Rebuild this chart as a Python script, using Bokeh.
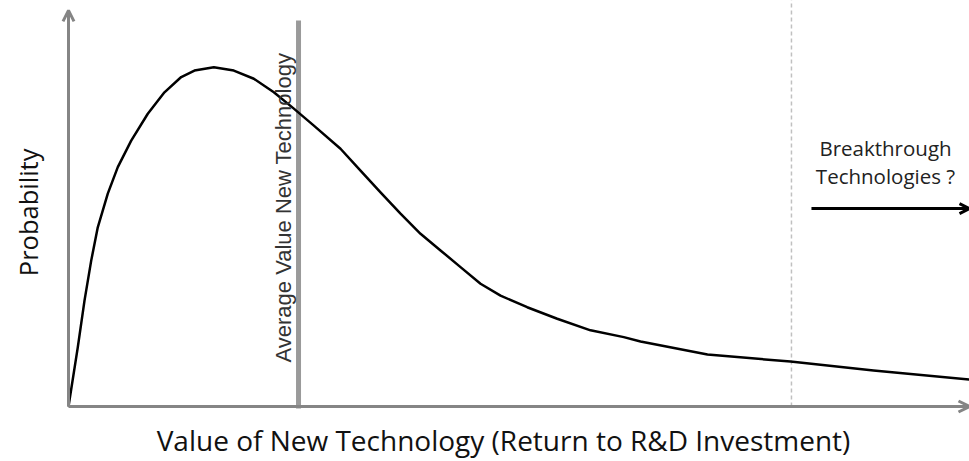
from bokeh.plotting import figure
from bokeh.models import Arrow, OpenHead
from bokeh.core.properties import value
from bokeh.embed import file_html
from bokeh.resources import INLINE

# Curve: value of new technology vs probability
tech_value = [0.0, 0.103, 0.178, 0.252, 0.325, 0.436, 0.547, 0.696, 0.880, 1.065,
              1.251, 1.398, 1.613, 1.835, 2.057, 2.279, 2.501, 2.723, 3.019, 3.241,
              3.463, 3.685, 3.907, 4.129, 4.351, 4.573, 4.795, 5.091, 5.424, 5.794,
              6.163, 6.349, 7.092, 8.013, 8.935, 10.0]
probability = [0.0, 0.174, 0.312, 0.429, 0.527, 0.626, 0.704, 0.782, 0.861, 0.924,
               0.969, 0.988, 0.998, 0.988, 0.964, 0.924, 0.876, 0.826, 0.758, 0.694,
               0.630, 0.567, 0.508, 0.459, 0.410, 0.361, 0.326, 0.292, 0.258, 0.224,
               0.204, 0.191, 0.153, 0.132, 0.106, 0.079]

average_value = 2.553
average_line_y = [-0.006, 1.135]
breakthrough_value = 8.024
breakthrough_line_y = [0.0, 1.2]

x_axis_end = 10.0
y_axis_end = 1.165
arrow_x = [8.246, 10.0]
arrow_y = 0.582

x_title = "Value of New Technology (Return to R&D Investment)"
y_title = "Probability"
avg_label = "Average Value New Technology"
bt_labels = ["Breakthrough", "Technologies ?"]
bt_label_x = 9.068
bt_label_y = [0.759, 0.679]

p = figure(width=969, height=461, x_range=(-0.7547, 10.0), y_range=(-0.1618, 1.1941),
           output_backend="svg", toolbar_location=None, x_axis_type=None, y_axis_type=None,
           min_border=0, min_border_left=0, min_border_right=0, min_border_top=0, min_border_bottom=0)
p.grid.visible = False
p.outline_line_color = None
p.background_fill_color = "white"

# dashed line
p.line([breakthrough_value, breakthrough_value], breakthrough_line_y, line_color="#c0c0c0",
       line_width=1.5, line_dash="4 3")

# axes with arrows
axis_color = "#858585"
p.add_layout(Arrow(x_start=0, y_start=0, x_end=x_axis_end, y_end=0, line_color=axis_color,
                   line_width=3, end=OpenHead(size=11, line_color=axis_color, line_width=3)))
p.add_layout(Arrow(x_start=0, y_start=0, x_end=0, y_end=y_axis_end, line_color=axis_color,
                   line_width=3, end=OpenHead(size=11, line_color=axis_color, line_width=3)))

# average line
p.line([average_value, average_value], average_line_y, line_color="#9a9a9a", line_width=5)

# curve
p.line(tech_value, probability, line_color="black", line_width=2.5, line_join="round")

# breakthrough arrow
p.add_layout(Arrow(x_start=arrow_x[0], y_start=arrow_y, x_end=arrow_x[1], y_end=arrow_y,
                   line_color="black", line_width=3,
                   end=OpenHead(size=10, line_color="black", line_width=3)))

# texts
p.text(x=[bt_label_x] * 2, y=bt_label_y, text=bt_labels, text_font=value("Open Sans"),
       text_font_size="20.5px", text_align="center", text_baseline="middle", text_color="#222222")
p.text(x=[4.828], y=[-0.1], text=[x_title], text_font=value("Open Sans"),
       text_font_size="28px", text_align="center", text_baseline="middle", text_color="#111111")
p.text(x=[-0.444], y=[0.571], text=[y_title], text_font=value("Open Sans"),
       text_font_size="25.5px", text_align="center", text_baseline="middle", text_color="#111111",
       angle=1.5708)
p.text(x=[2.386], y=[0.585], text=[avg_label], text_font=value("Liberation Sans"),
       text_font_size="22px", text_align="center", text_baseline="middle", text_color="#333333",
       angle=1.5708)

open("out.html", "w").write(file_html(p, INLINE))
